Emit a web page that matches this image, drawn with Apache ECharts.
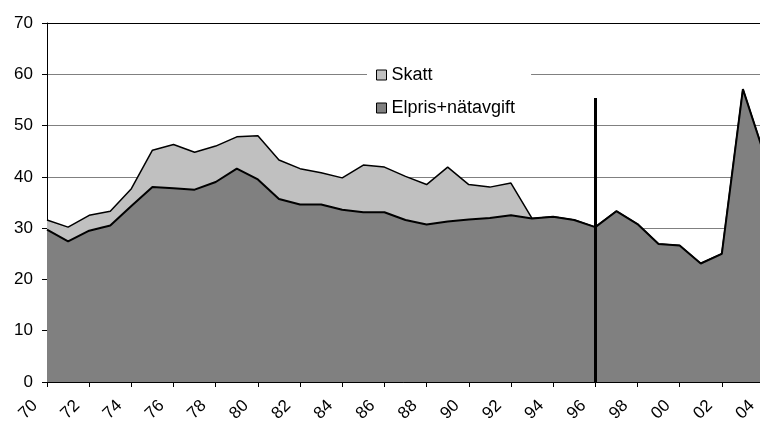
<!DOCTYPE html>
<html>
<head>
<meta charset="utf-8">
<script src="https://cdn.jsdelivr.net/npm/echarts@6/dist/echarts.min.js"></script>
<style>
  html, body { margin: 0; padding: 0; background: #fff; }
  #main { width: 760px; height: 426px; }
</style>
</head>
<body>
<div id="main"></div>
<script>
// år 1970-2004
const years = [
  "70", "71", "72", "73", "74", "75", "76", "77", "78", "79",
  "80", "81", "82", "83", "84", "85", "86", "87", "88", "89",
  "90", "91", "92", "93", "94", "95", "96", "97", "98", "99",
  "00", "01", "02", "03", "04",
];

// Elpris+nätavgift
const elpris = [
  29.7, 27.4, 29.5, 30.5, 34.3, 38.0, 37.8, 37.5, 39.0, 41.6,
  39.5, 35.7, 34.6, 34.6, 33.6, 33.1, 33.1, 31.6, 30.7, 31.3,
  31.7, 32.0, 32.5, 31.9, 32.2, 31.6, 30.2, 33.3, 30.8, 26.9,
  26.6, 23.1, 25.0, 57.1, 44.5,
];

// Skatt (staplas ovanpå elpriset)
const skatt = [
  1.9, 2.8, 3.0, 2.8, 3.4, 7.2, 8.5, 7.3, 7.0, 6.2,
  8.5, 7.6, 7.0, 6.2, 6.2, 9.2, 8.8, 8.5, 7.8, 10.6,
  6.8, 6.0, 6.3, 0, 0, 0, 0, 0, 0, 0,
  0, 0, 0, 0, 0,
];

const yTicks = [0, 10, 20, 30, 40, 50, 60, 70];
const markYear = "96";
const markTop = 55.4;

const font = "Liberation Sans";
const chart = echarts.init(document.getElementById("main"));

chart.setOption({
  animation: false,
  textStyle: { fontFamily: font },
  grid: { left: 47, top: 23, width: 717, height: 359, outerBoundsMode: "none" },
  legend: {
    orient: "vertical",
    left: 367,
    top: 60,
    padding: [6, 16, 8, 9],
    backgroundColor: "#fff",
    itemWidth: 10,
    itemHeight: 10,
    itemGap: 15,
    icon: "rect",
    itemStyle: { borderColor: "#000", borderWidth: 1 },
    textStyle: { fontSize: 18, color: "#000", lineHeight: 16, fontFamily: font },
    data: ["Skatt", "Elpris+nätavgift"],
  },
  xAxis: {
    type: "category",
    boundaryGap: false,
    data: years,
    axisLine: { lineStyle: { color: "#000", width: 1 } },
    axisTick: { interval: 1, length: 5, lineStyle: { color: "#000" } },
    axisLabel: {
      interval: 1,
      rotate: 45,
      fontSize: 17,
      color: "#000",
      margin: 9,
      padding: [0, 17, 0, 0],
      fontFamily: font,
    },
  },
  yAxis: {
    type: "value",
    min: yTicks[0],
    max: yTicks[yTicks.length - 1],
    interval: 10,
    axisLine: { show: true, lineStyle: { color: "#000", width: 1 } },
    axisTick: { show: true, length: 5, lineStyle: { color: "#000" } },
    axisLabel: { fontSize: 17, color: "#000", margin: 14, fontFamily: font },
    splitLine: {
      lineStyle: {
        color: ["#808080", "#808080", "#808080", "#808080", "#808080", "#808080", "#808080", "#000"],
        width: 1,
      },
    },
  },
  series: [
    {
      name: "Elpris+nätavgift",
      type: "line",
      stack: "total",
      data: elpris,
      symbol: "none",
      lineStyle: { color: "#000", width: 2 },
      itemStyle: { color: "#808080" },
      areaStyle: { color: "#808080", opacity: 1 },
      z: 3,
      markLine: {
        silent: true,
        symbol: "none",
        label: { show: false },
        lineStyle: { color: "#000", width: 3, type: "solid" },
        data: [[{ coord: [markYear, 0] }, { coord: [markYear, markTop] }]],
      },
    },
    {
      name: "Skatt",
      type: "line",
      stack: "total",
      data: skatt,
      symbol: "none",
      lineStyle: { color: "#000", width: 1.5 },
      itemStyle: { color: "#c0c0c0" },
      areaStyle: { color: "#c0c0c0", opacity: 1 },
      z: 2,
    },
  ],
});
</script>
</body>
</html>
